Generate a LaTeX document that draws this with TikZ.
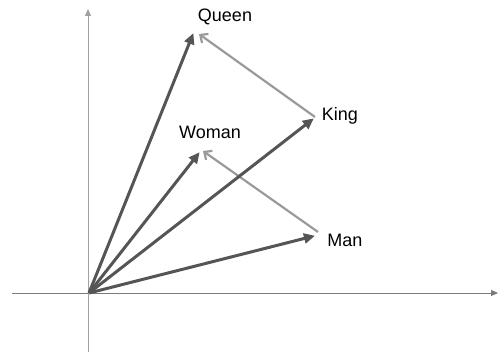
\documentclass[tikz,border=0pt]{standalone}
\usepackage{fontspec}
\setmainfont{Liberation Sans}
\usetikzlibrary{arrows.meta}
\definecolor{vecdark}{HTML}{555555}
\definecolor{vecgrey}{HTML}{9A9A9A}
\definecolor{axisgrey}{HTML}{7A7A7A}
\begin{document}
\begin{tikzpicture}[x=1pt,y=-1pt,
  axisline/.style={draw=axisgrey,line width=0.9pt,-{Triangle[length=7pt,width=6pt]}},
  vecline/.style={draw=vecdark,line width=3pt,-{Triangle[length=11pt,width=10pt]},shorten >=-1pt},
  diffline/.style={draw=vecgrey,line width=2.2pt,-{Straight Barb[length=6pt,width=11pt]}},
  lbl/.style={font=\fontsize{18}{18}\selectfont,inner sep=0pt}]
\useasboundingbox (0,0) rectangle (499,355);
% axes
\coordinate (xs) at (12,293);
\coordinate (xe) at (498,293);
\coordinate (ys) at (88,352);
\coordinate (ye) at (88,9);
\draw[axisline] (xs) -- (xe);
\draw[axisline,draw=axisgrey!70] (ys) -- (ye);
% labels
\node[lbl] (queen) at (225,17) {Queen};
\node[lbl] (king) at (340,116) {King};
\node[lbl] (woman) at (210,132) {Woman};
\node[lbl] (man) at (345,240) {Man};
% points
\coordinate (O) at (89,293);
\coordinate (Q) at (193,34);
\coordinate (K) at (313,119);
\coordinate (W) at (199,153);
\coordinate (M) at (314,236);
\coordinate (Kt) at (315,117);
\coordinate (Qt) at (199,34);
\coordinate (Mt) at (318,232);
\coordinate (Wt) at (203,151);
% difference arrows
\draw[diffline] (Kt) -- (Qt);
\draw[diffline] (Mt) -- (Wt);
% vectors
\draw[vecline] (O) -- (Q);
\draw[vecline] (O) -- (W);
\draw[vecline] (O) -- (K);
\draw[vecline] (O) -- (M);
\end{tikzpicture}
\end{document}
